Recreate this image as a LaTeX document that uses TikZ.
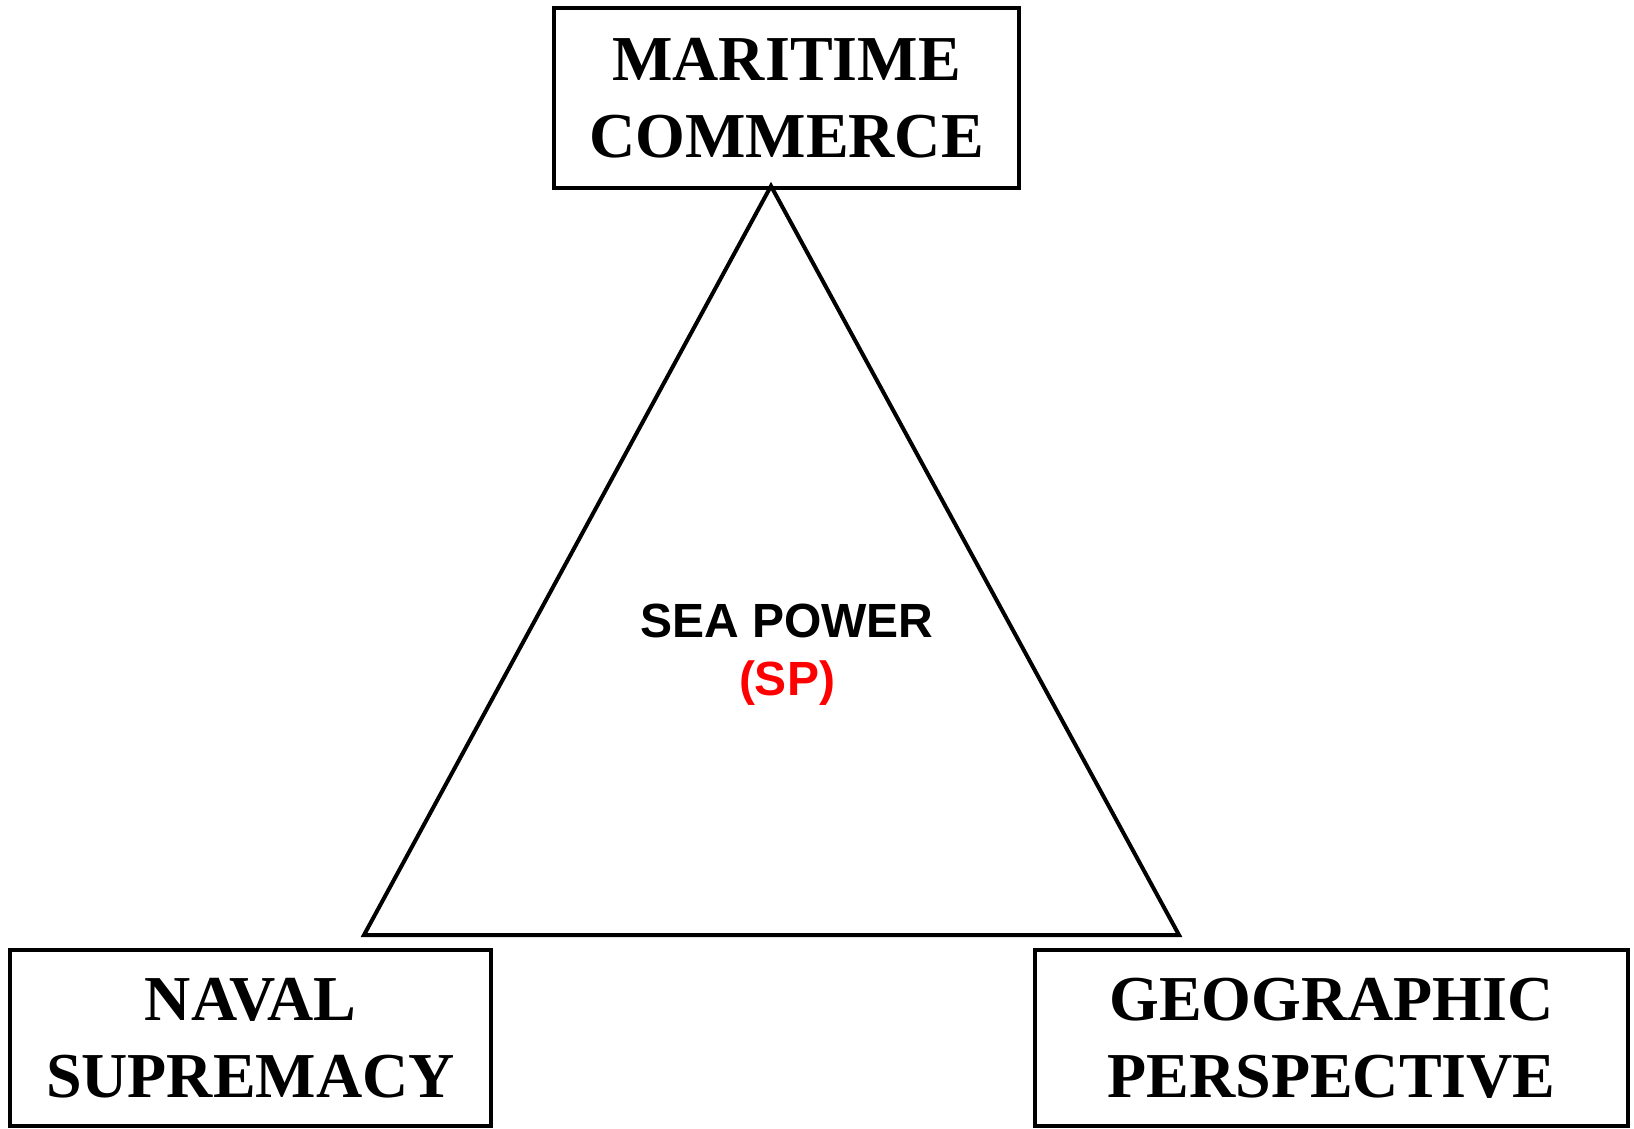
\documentclass[tikz,border=0pt]{standalone}
\usepackage{fontspec}
\setmainfont{Liberation Serif}
\setsansfont{Liberation Sans}

\begin{document}
\begin{tikzpicture}[x=1pt, y=-1pt, line width=4pt,
factor/.style={draw, rectangle, inner sep=0pt, align=center,
font=\fontsize{64}{77}\selectfont\bfseries},
core/.style={align=center, font=\fontsize{48}{58}\selectfont\sffamily\bfseries}]
\useasboundingbox (0,0) rectangle (1634,1129);
\node [factor, minimum width=465pt, minimum height=180pt] (mc) at (786.5,98) {MARITIME\\COMMERCE};
\node [factor, minimum width=481pt, minimum height=176pt] (ns) at (250.5,1038) {NAVAL\\SUPREMACY};
\node [factor, minimum width=593pt, minimum height=176pt] (gp) at (1331.5,1038) {GEOGRAPHIC\\PERSPECTIVE};
\coordinate (apex) at (771,186);
\coordinate (bl) at (364,935);
\coordinate (br) at (1179,935);
\draw [line join=miter] (apex) -- (br) -- (bl) -- cycle;
\node [core] (sp) at (787,655) {SEA POWER\\\textcolor{red}{(SP)}};
\end{tikzpicture}
\end{document}
